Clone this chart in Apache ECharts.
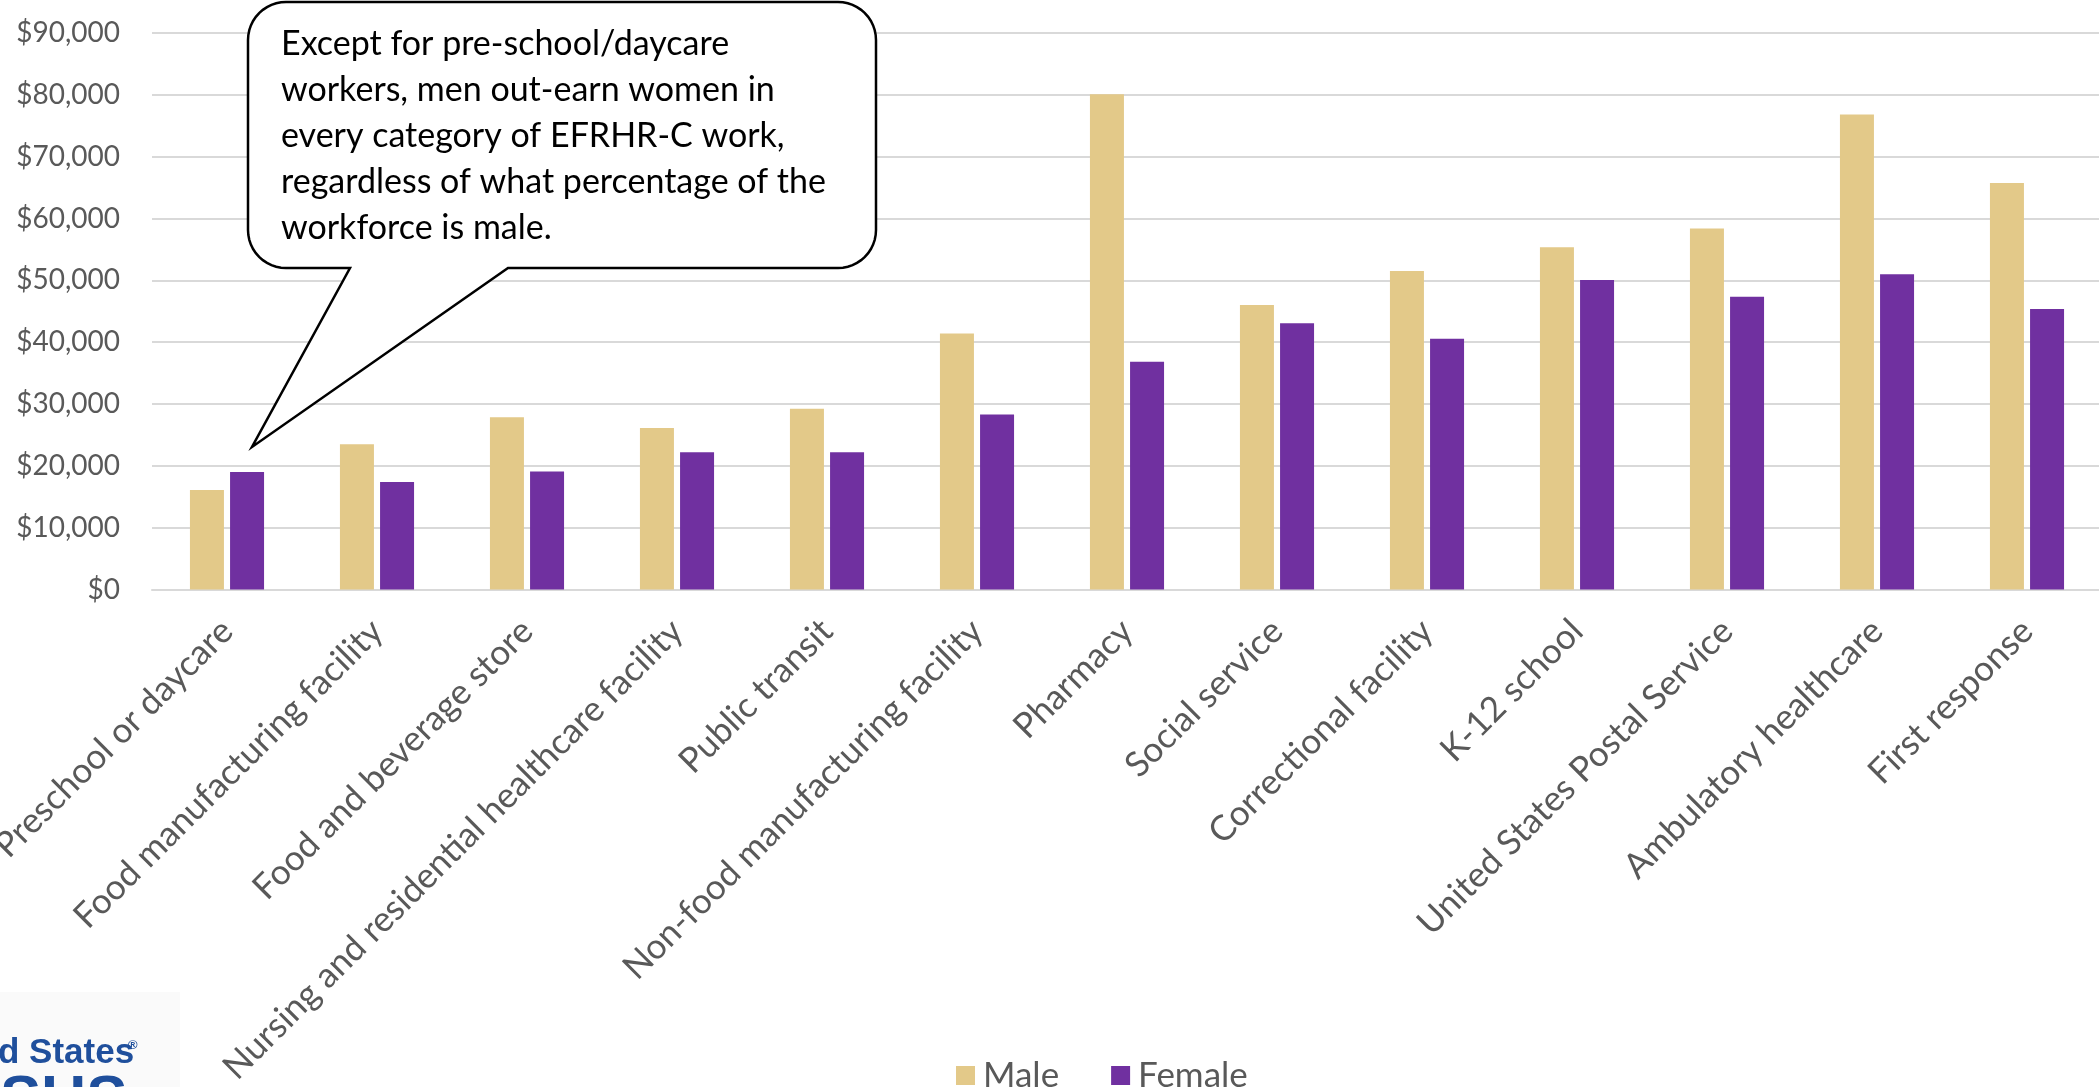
<!DOCTYPE html>
<html>
<head>
<meta charset="utf-8">
<script src="https://cdn.jsdelivr.net/npm/echarts@6/dist/echarts.min.js"></script>
<style>
  html, body { margin: 0; padding: 0; background: #ffffff; }
  #chart { width: 2099px; height: 1087px; }
</style>
</head>
<body>
<div id="chart"></div>
<script>
// Median earnings by workplace category and sex
const categories = [
  'Preschool or daycare',
  'Food manufacturing facility',
  'Food and beverage store',
  'Nursing and residential healthcare facility',
  'Public transit',
  'Non-food manufacturing facility',
  'Pharmacy',
  'Social service',
  'Correctional facility',
  'K-12 school',
  'United States Postal Service',
  'Ambulatory healthcare',
  'First response'
];
const seriesNames = ['Male', 'Female'];
const maleEarnings   = [16100, 23500, 27850, 26100, 29250, 41400, 80100, 46000, 51500, 55350, 58400, 76800, 65750];
const femaleEarnings = [19000, 17400, 19100, 22200, 22200, 28300, 36850, 43050, 40550, 50050, 47350, 51000, 45350];
const yAxisMin = 0;
const yAxisMax = 90000;
const yAxisStep = 10000;
const calloutLines = [
  'Except for pre-school/daycare',
  'workers, men out-earn women in',
  'every category of EFRHR-C work,',
  'regardless of what percentage of the',
  'workforce is male.'
];

const FONT = 'Lato, "Open Sans", sans-serif';
const GREY = '#595959';
const GRID_LINE = '#d9d9d9';
const MALE_COLOR = '#E3C989';
const FEMALE_COLOR = '#7030A0';
const LOGO_BLUE = '#1f4f9c';

function money(v) {
  return '$' + Math.round(v).toLocaleString('en-US');
}

// Outline of a rounded speech bubble whose pointer leaves the bottom edge
function bubbleOutline(l, t, r, b, rad, baseLeft, baseRight, tip) {
  const pts = [];
  const arc = (cx, cy, a0, a1) => {
    const n = 12;
    for (let i = 0; i <= n; i++) {
      const a = a0 + (a1 - a0) * i / n;
      pts.push([cx + rad * Math.cos(a), cy + rad * Math.sin(a)]);
    }
  };
  arc(l + rad, t + rad, Math.PI, 1.5 * Math.PI);      // top-left
  arc(r - rad, t + rad, 1.5 * Math.PI, 2 * Math.PI);  // top-right
  arc(r - rad, b - rad, 0, 0.5 * Math.PI);            // bottom-right
  pts.push([baseRight, b]);
  pts.push(tip);
  pts.push([baseLeft, b]);
  arc(l + rad, b - rad, 0.5 * Math.PI, Math.PI);      // bottom-left
  return pts;
}

const chart = echarts.init(document.getElementById('chart'), null, { renderer: 'canvas' });

const option = {
  backgroundColor: '#ffffff',
  animation: false,
  textStyle: { fontFamily: FONT },
  grid: {
    left: 152, right: -3, top: 33, bottom: 497.5,
    containLabel: false,
    outerBoundsMode: 'none'
  },
  legend: {
    data: seriesNames,
    left: 951,
    top: 1053,
    icon: 'rect',
    itemWidth: 19,
    itemHeight: 19,
    itemGap: 52,
    textStyle: { color: GREY, fontSize: 35, fontFamily: FONT, padding: [0, 0, 0, 3] }
  },
  xAxis: {
    type: 'category',
    data: categories,
    axisTick: { show: false },
    axisLine: { lineStyle: { color: GRID_LINE, width: 2 } },
    axisLabel: {
      interval: 0,
      rotate: 45,
      margin: 36,
      color: GREY,
      fontSize: 35,
      fontFamily: FONT
    }
  },
  yAxis: {
    type: 'value',
    min: yAxisMin,
    max: yAxisMax,
    interval: yAxisStep,
    axisLine: { show: false },
    axisTick: { show: false },
    splitLine: { lineStyle: { color: GRID_LINE, width: 2 } },
    axisLabel: {
      margin: 32,
      color: GREY,
      fontSize: 28,
      fontFamily: FONT,
      formatter: money
    }
  },
  series: [
    {
      name: seriesNames[0],
      type: 'bar',
      data: maleEarnings,
      barWidth: 34,
      barGap: '18%',
      itemStyle: { color: MALE_COLOR }
    },
    {
      name: seriesNames[1],
      type: 'bar',
      data: femaleEarnings,
      barWidth: 34,
      barGap: '18%',
      itemStyle: { color: FEMALE_COLOR }
    }
  ],
  graphic: [
    // speech-bubble annotation
    {
      type: 'polygon',
      z: 100,
      shape: { points: bubbleOutline(248, 2, 876, 268, 38, 350, 508, [252, 447]) },
      style: { fill: '#ffffff', stroke: '#000000', lineWidth: 2.5, lineJoin: 'miter' }
    },
    {
      type: 'text',
      z: 101,
      left: 281,
      top: 21,
      style: {
        text: calloutLines.join('\n'),
        fill: '#000000',
        font: '34px ' + FONT,
        lineHeight: 46
      }
    },
    // partial agency logo in the lower-left corner
    {
      type: 'rect',
      z: 1,
      shape: { x: 0, y: 992, width: 180, height: 95 },
      style: { fill: '#fafafa' }
    },
    {
      type: 'text',
      z: 2,
      left: -2,
      top: 1036,
      style: { text: 'd States', fill: LOGO_BLUE, font: 'bold 35px "Liberation Sans", Arial, sans-serif' }
    },
    {
      type: 'text',
      z: 2,
      left: 128,
      top: 1039,
      style: { text: '\u00AE', fill: LOGO_BLUE, font: 'bold 13px "Liberation Sans", Arial, sans-serif' }
    },
    {
      type: 'text',
      z: 2,
      left: 0,
      top: 1070,
      style: { text: 'SUS', fill: LOGO_BLUE, font: 'bold 62px "Liberation Sans", Arial, sans-serif' }
    }
  ]
};

chart.setOption(option);
</script>
</body>
</html>
